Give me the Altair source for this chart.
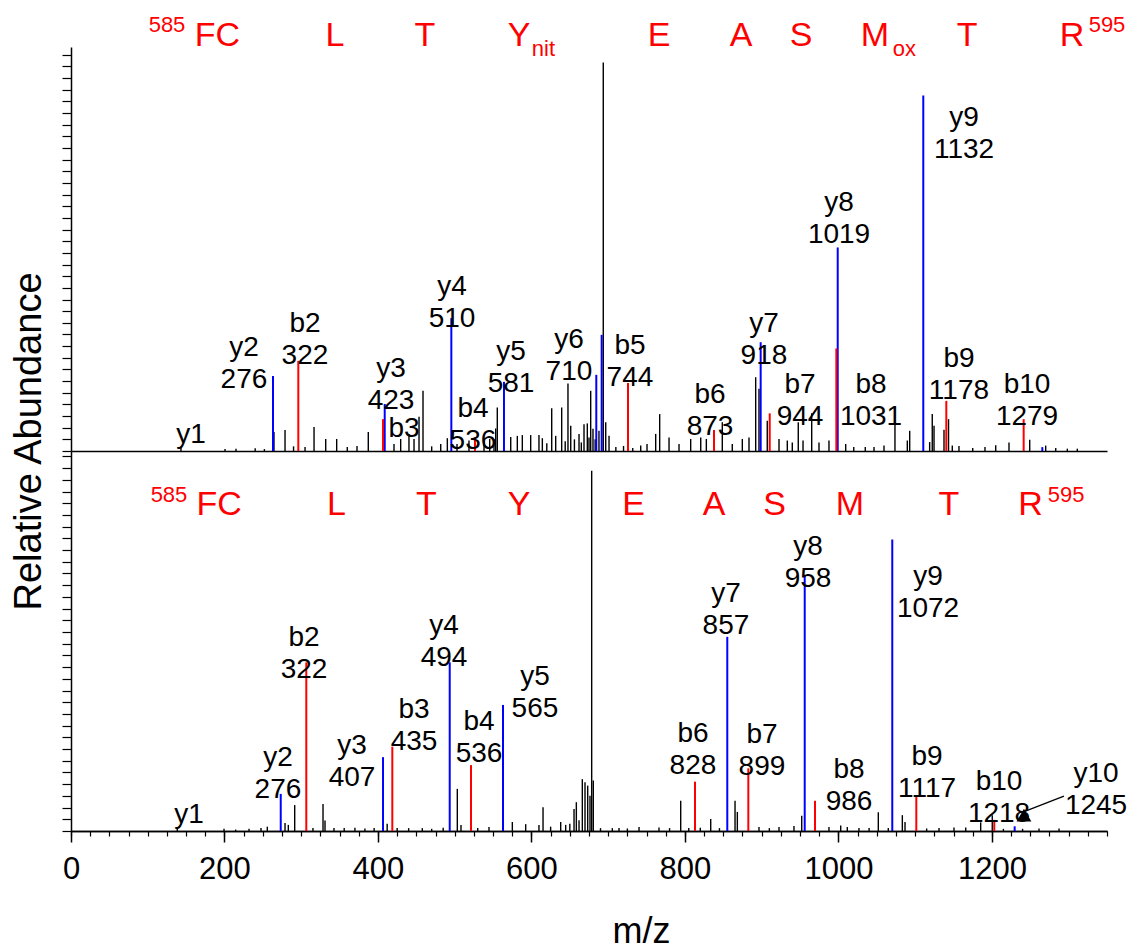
import altair as alt
import pandas as pd

# ---------------- upper spectrum (Y nitrated, M oxidised) ----------------
top_black_mz = [143.3, 200.7, 215, 240, 252, 264.5, 278.9, 290, 305, 316.7, 331.9, 346.2, 360, 372.7,
                387.4, 420.9, 429.6, 440.4, 447.0, 453.5, 458.7, 470, 481.8, 490.4, 503.0, 518.6, 538.2,
                545.6, 551.2, 553.4, 555.5, 573.0, 581.6, 588.1, 599.0, 609.8, 614.2, 620, 626.4, 631.6,
                639.4, 644, 647.6, 651.2, 656, 662.0, 665, 668.5, 672.8, 675, 677.2, 680.2, 683, 688.0,
                693.6, 696.8, 701.1, 710, 720, 732, 742.4, 750.6, 761.9, 767.1, 779.3, 792.3, 807.5,
                820.6, 827.9, 848.7, 861.7, 874.8, 883.5, 892.2, 896.5, 907.3, 922.6, 933.4, 939.9,
                947.7, 953.9, 965.2, 974.7, 987.7, 1009.5, 1020, 1035, 1046.4, 1059.4, 1073.7, 1089.8,
                1092.9, 1118.9, 1122.3, 1124.6, 1137.6, 1143.5, 1148.4, 1157.1, 1175, 1191.0, 1205.0,
                1222.3, 1249.3, 1270.1, 1283.2, 1298.3, 1311.3]
top_black_int = [0.8, 0.5, 0.6, 0.7, 0.5, 4.9, 5.4, 1.2, 1.0, 6.2, 3.1, 3.1, 1.0, 1.3,
                 4.9, 1.8, 3.1, 4.4, 3.1, 8.8, 15.5, 1.2, 1.8, 3.3, 1.8, 2.7, 3.1,
                 3.1, 3.1, 5.8, 11.2, 3.6, 3.9, 4.1, 4.1, 4.1, 3.3, 2.0, 11.0, 3.9,
                 11.2, 2.5, 17.4, 6.5, 3.0, 4.4, 2.2, 6.9, 7.1, 3.5, 15.5, 5.7, 3.0, 5.2,
                 100, 7.4, 3.9, 1.0, 1.3, 0.8, 1.4, 1.8, 4.4, 9.5, 3.5, 1.8, 3.1,
                 3.5, 3.1, 7.4, 1.8, 3.1, 3.5, 19.0, 16.0, 7.8, 3.1, 2.7, 2.2,
                 7.4, 2.7, 9.7, 2.2, 2.7, 1.8, 1.0, 1.0, 1.0, 1.4, 6.9, 2.7,
                 5.2, 2.3, 9.5, 6.5, 5.5, 8.2, 1.4, 1.3, 0.8, 1.0, 1.5,
                 2.2, 2.9, 1.4, 0.8, 0.6, 0.6]
top_b_mz = [296.2, 406.6, 526.4, 725.8, 837.9, 910.5, 997.3, 1140.6, 1241.4]
top_b_int = [23.2, 8.2, 3.5, 17.5, 5.4, 9.7, 26.4, 12.9, 8.2]
top_y_mz = [263.2, 408.8, 495.6, 564.2, 684.5, 691.5, 898.7, 999.1, 1110.6, 1265.7]
top_y_int = [19.3, 12.1, 34.2, 17.8, 19.6, 29.9, 28.0, 52.4, 91.5, 1.0]

top_lab_name = ["y1", "y2", "b2", "y3", "b3", "y4", "b4", "y5", "y6", "b5", "b6", "y7", "b7",
                "y8", "b8", "y9", "b9", "b10"]
top_lab_val = ["", "276", "322", "423", "", "510", "536", "581", "710", "744", "873", "918", "944",
               "1019", "1031", "1132", "1178", "1279"]
top_lab_x = [156.4, 225.4, 304.9, 417.0, 434.0, 496.5, 523.8, 573.4, 648.9, 728.4, 832.7, 903.0,
             950.0, 1000.8, 1042.5, 1163.7, 1157.1, 1245.8]
top_lab_y = [4.1, 26.5, 32.7, 21.0, 5.6, 42.2, 10.8, 25.5, 28.6, 27.0, 14.4, 32.7, 17.0, 63.8,
             17.0, 85.7, 23.7, 17.0]

top_seq_text = ["585", "FC", "L", "T", "Y", "nit", "E", "A", "S", "M", "ox", "T", "R", "595"]
top_seq_x = [125.1, 190.9, 344.0, 461.3, 583.8, 615.7, 766.2, 873.1, 951.3, 1047.7, 1086.1,
             1167.6, 1304.4, 1350.0]
top_seq_role = ["sup", "main", "main", "main", "main", "sub", "main", "main", "main", "main",
                "sub", "main", "main", "sup"]

# ---------------- lower spectrum (unmodified) ----------------
bot_black_mz = [138.5, 199.4, 214.6, 232, 247.6, 255.8, 278.9, 283.2, 291.5, 315.3, 328.4, 331.0,
                342.7, 356, 370, 383, 395, 412, 425, 440, 457.8, 470, 485, 503.4, 508.2, 530, 544.7,
                575.1, 592.5, 609.8, 615.1, 625, 638.1, 644.6, 650, 655.5, 658.5, 662, 666.3, 669.8,
                673.3, 676.3, 678.5, 680.6, 690, 705.4, 714.1, 725, 740.2, 766.2, 780, 794.5, 805,
                820, 833.6, 845, 865.3, 868.3, 896.5, 910, 922.6, 942.1, 952.2, 987.7, 1003.0,
                1011.6, 1026.8, 1040, 1052.0, 1065, 1083.3, 1086.8, 1115, 1131.1, 1150.6, 1165.9,
                1185.4, 1200.5, 1215, 1240, 1261.4, 1287.5]
bot_black_int = [0.8, 0.6, 0.4, 0.6, 0.8, 1.2, 2.2, 1.7, 7.2, 0.8, 7.5, 2.9,
                 0.8, 0.8, 0.9, 0.7, 0.8, 2.0, 0.8, 0.8, 0.8, 0.6, 0.9, 11.7, 1.7, 0.8, 1.1,
                 2.5, 1.9, 1.7, 6.6, 1.2, 2.5, 1.7, 2.0, 6.1, 8.0, 3.0, 14.4, 13.5,
                 12.6, 9.8, 100, 14.0, 0.8, 0.8, 0.8, 0.7, 1.1, 1.0, 0.8, 8.4, 0.8,
                 0.9, 3.3, 0.8, 8.4, 5.3, 1.1, 0.8, 1.1, 1.4, 4.2, 1.1, 1.5,
                 1.1, 0.8, 0.8, 5.2, 0.8, 4.4, 2.5, 0.7, 0.8, 1.0, 1.0,
                 2.4, 4.4, 0.6, 0.6, 0.7, 0.7]
bot_b_mz = [306.6, 418.7, 521.2, 813.1, 882.6, 969.5, 1101.5, 1203.1]
bot_b_int = [46.8, 23.4, 18.3, 13.7, 17.4, 8.4, 10.0, 3.1]
bot_y_mz = [273.3, 406.6, 493.5, 562.9, 855.2, 956.1, 1070.2, 1229.7]
bot_y_int = [10.3, 20.5, 46.8, 35.0, 53.9, 70.9, 80.9, 1.3]

bot_lab_name = ["y1", "y2", "b2", "y3", "b3", "y4", "b4", "y5", "b6", "y7", "b7", "y8", "b8",
                "y9", "b9", "b10", "y10"]
bot_lab_val = ["", "276", "322", "407", "435", "494", "536", "565", "828", "857", "899", "958",
               "986", "1072", "1117", "1218", "1245"]
bot_lab_x = [153.8, 269.7, 303.6, 366.2, 447.0, 486.1, 531.7, 604.6, 810.5, 853.5, 900.4, 960.4,
             1013.8, 1116.8, 1115.5, 1209.3, 1335.7]
bot_lab_y = [4.4, 20.3, 53.6, 23.6, 33.6, 56.9, 30.3, 42.8, 26.9, 65.8, 26.7, 78.8, 16.9, 70.5,
             20.5, 13.6, 15.8]

bot_seq_text = ["585", "FC", "L", "T", "Y", "E", "A", "S", "M", "T", "R", "595"]
bot_seq_x = [127.7, 192.9, 346.0, 463.2, 583.8, 733.0, 837.9, 916.7, 1015.1, 1144.1, 1250.3, 1296.6]
bot_seq_role = ["sup", "main", "main", "main", "main", "main", "main", "main", "main", "main",
                "main", "sup"]

# y10 1245 marker (triangle) and its pointer line
y10_marker_mz = [1241.8]
y10_marker_int = [4.4]
y10_arrow_mz = [1244.5, 1293.9]
y10_arrow_int = [5.6, 9.7]

x_major = [0, 200, 400, 600, 800, 1000, 1200]

# ---------------- styling ----------------
FONT = "Liberation Sans"
RED = "#ff0000"
BLUE = "#0000ff"
X_MAX = 1350
W = 1036
H_TOP = 404
H_BOT = 380
TOP_YMAX = 104
BOT_YMAX = 105.5

xsc = alt.Scale(domain=[0, X_MAX], nice=False, zero=False)


def make_panel(black_mz, black_int, b_mz, b_int, y_mz, y_int,
               lab_name, lab_val, lab_x, lab_y,
               seq_text, seq_x, seq_role, ymax, height, seq_levels, bottom):
    ysc = alt.Scale(domain=[0, ymax], nice=False, zero=True)
    tick_step = 3.0 if not bottom else 3.25
    ticks = [round(k * tick_step, 3) for k in range(int(ymax / tick_step) + 1)]

    black = pd.DataFrame({"mz": black_mz, "inten": black_int})
    col = pd.concat([
        pd.DataFrame({"mz": y_mz, "inten": y_int, "ion": "y"}),
        pd.DataFrame({"mz": b_mz, "inten": b_int, "ion": "b"}),
    ], ignore_index=True)
    labs = pd.DataFrame({
        "mz": lab_x, "lev": lab_y,
        "txt": [n + ("\n" + v if v else "") for n, v in zip(lab_name, lab_val)],
    })
    seq = pd.DataFrame({"txt": seq_text, "mz": seq_x, "role": seq_role})
    seq["lev"] = [seq_levels[r] for r in seq_role]

    y_kw = dict(orient="left", values=ticks, labels=False, tickSize=9, tickWidth=1.2,
                tickColor="black", domainColor="black", domainWidth=1.5, grid=False)
    if bottom:
        y_axis = alt.Axis(title="Relative Abundance", titleFont=FONT, titleFontSize=38,
                          titleFontWeight="normal", titleColor="black", titleX=-42, titleY=-10,
                          titleAngle=270, titleBaseline="middle", titleAlign="center", **y_kw)
    else:
        y_axis = alt.Axis(title=None, **y_kw)
    if bottom:
        x_axis_black = alt.Axis(orient="bottom", values=list(range(0, X_MAX + 1, 25)),
                                labels=False, tickSize=5, tickWidth=1.2, tickColor="black",
                                domainColor="black", domainWidth=1.5, grid=False, title=None)
        x_axis_col = alt.Axis(orient="bottom", values=x_major, tickSize=11, tickWidth=1.5,
                              tickColor="black", domainColor="black", domainWidth=1.5, grid=False,
                              format="d", labelFont=FONT, labelFontSize=31, labelColor="black",
                              labelPadding=12, labelFlush=False,
                              title="m/z", titleFont=FONT, titleFontSize=36,
                              titleFontWeight="normal", titleColor="black",
                              titleX=570, titleY=111, titleBaseline="alphabetic")
    else:
        x_axis_black = alt.Axis(orient="bottom", labels=False, ticks=False, domainColor="black",
                                domainWidth=1.5, grid=False, title=None)
        x_axis_col = None

    l_black = alt.Chart(black).mark_rule(color="black", strokeWidth=1.4).encode(
        x=alt.X("mz:Q", scale=xsc, axis=x_axis_black),
        y=alt.Y("inten:Q", scale=ysc, axis=y_axis),
        y2=alt.datum(0),
    )
    l_col = alt.Chart(col).mark_rule(strokeWidth=2).encode(
        x=alt.X("mz:Q", scale=xsc, axis=x_axis_col),
        y=alt.Y("inten:Q", scale=ysc, axis=None),
        y2=alt.datum(0),
        color=alt.Color("ion:N", scale=alt.Scale(domain=["y", "b"], range=[BLUE, RED]), legend=None),
    )
    l_lab = alt.Chart(labs).mark_text(font=FONT, fontSize=28, color="black", align="center",
                                      baseline="middle", lineBreak="\n", lineHeight=32).encode(
        x=alt.X("mz:Q", scale=xsc, axis=None),
        y=alt.Y("lev:Q", scale=ysc, axis=None),
        text="txt:N",
    )
    l_seq_main = alt.Chart(seq).transform_filter(alt.datum.role == "main").mark_text(
        font=FONT, fontSize=34, color=RED, align="center", baseline="alphabetic").encode(
        x=alt.X("mz:Q", scale=xsc, axis=None),
        y=alt.Y("lev:Q", scale=ysc, axis=None),
        text="txt:N",
    )
    l_seq_small = alt.Chart(seq).transform_filter(alt.datum.role != "main").mark_text(
        font=FONT, fontSize=22, color=RED, align="center", baseline="alphabetic").encode(
        x=alt.X("mz:Q", scale=xsc, axis=None),
        y=alt.Y("lev:Q", scale=ysc, axis=None),
        text="txt:N",
    )
    layers = [l_black, l_col, l_lab, l_seq_main, l_seq_small]
    if bottom:
        mk = pd.DataFrame({"mz": y10_marker_mz, "inten": y10_marker_int})
        ar = pd.DataFrame({"mz": [y10_arrow_mz[0]], "inten": [y10_arrow_int[0]],
                           "mz2": [y10_arrow_mz[1]], "inten2": [y10_arrow_int[1]]})
        l_ar = alt.Chart(ar).mark_rule(color="black", strokeWidth=1.3).encode(
            x=alt.X("mz:Q", scale=xsc, axis=None), x2="mz2:Q",
            y=alt.Y("inten:Q", scale=ysc, axis=None), y2="inten2:Q")
        l_mk = alt.Chart(mk).mark_point(shape="triangle-up", filled=True, color="black",
                                        opacity=1, size=220).encode(
            x=alt.X("mz:Q", scale=xsc, axis=None),
            y=alt.Y("inten:Q", scale=ysc, axis=None))
        layers += [l_ar, l_mk]
    return alt.layer(*layers).resolve_axis(x="independent", y="independent").properties(
        width=W, height=height)


top = make_panel(top_black_mz, top_black_int, top_b_mz, top_b_int, top_y_mz, top_y_int,
                 top_lab_name, top_lab_val, top_lab_x, top_lab_y,
                 top_seq_text, top_seq_x, top_seq_role, TOP_YMAX, H_TOP,
                 {"main": 104.2, "sup": 107.9, "sub": 101.7}, bottom=False)
bot = make_panel(bot_black_mz, bot_black_int, bot_b_mz, bot_b_int, bot_y_mz, bot_y_int,
                 bot_lab_name, bot_lab_val, bot_lab_x, bot_lab_y,
                 bot_seq_text, bot_seq_x, bot_seq_role, BOT_YMAX, H_BOT,
                 {"main": 87.7, "sup": 91.3, "sub": 85.0}, bottom=True)

chart = alt.vconcat(top, bot, spacing=0, bounds="flush").properties(
    padding={"left": 1, "top": 5, "right": 2, "bottom": 5},
    background="white",
).configure_view(strokeWidth=0)

chart.save("out.html", embed_options={"renderer": "svg", "actions": False})
